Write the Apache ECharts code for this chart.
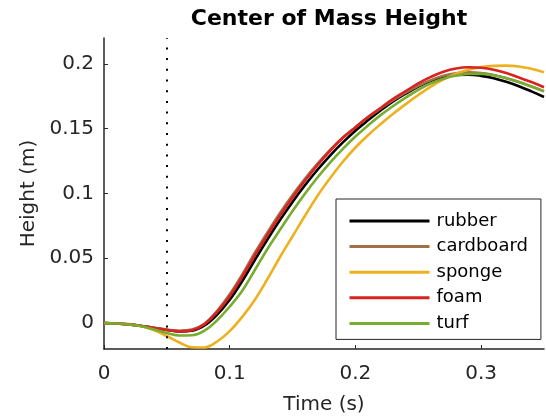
<!DOCTYPE html>
<html>
<head>
<meta charset="utf-8">
<script src="https://cdn.jsdelivr.net/npm/echarts@6/dist/echarts.min.js"></script>
<style>html,body{margin:0;padding:0;background:#fff}#c{width:546px;height:420px}</style>
</head>
<body>
<div id="c"></div>
<script>
const times = [0,0.01,0.02,0.03,0.04,0.05,0.06,0.07,0.08,0.09,0.10,0.11,0.12,0.13,0.14,0.15,0.16,0.17,0.18,0.19,0.20,0.21,0.22,0.23,0.24,0.25,0.26,0.27,0.28,0.29,0.30,0.31,0.32,0.33,0.34,0.35];
const rubber = [0,-0.0003,-0.0010,-0.0022,-0.0038,-0.0053,-0.0064,-0.0058,-0.0018,0.0065,0.0180,0.0325,0.0487,0.0645,0.0795,0.0935,0.1065,0.1185,0.1295,0.1395,0.1485,0.1565,0.1640,0.1710,0.1770,0.1825,0.1870,0.1900,0.1915,0.1917,0.1908,0.1890,0.1862,0.1828,0.1788,0.1745];
const cardboard = [0,-0.0003,-0.0010,-0.0022,-0.0037,-0.0050,-0.0059,-0.0050,-0.0005,0.0095,0.0222,0.0376,0.0543,0.0700,0.0850,0.0988,0.1115,0.1232,0.1338,0.1432,0.1512,0.1588,0.1655,0.1720,0.1778,0.1830,0.1875,0.1908,0.1928,0.1935,0.1930,0.1915,0.1890,0.1860,0.1825,0.1790];
const sponge = [0,-0.0003,-0.0011,-0.0025,-0.0055,-0.0100,-0.0150,-0.0186,-0.0188,-0.0142,-0.0062,0.0048,0.0180,0.0340,0.0510,0.0670,0.0830,0.0985,0.1120,0.1245,0.1355,0.1450,0.1535,0.1615,0.1690,0.1760,0.1825,0.1880,0.1925,0.1955,0.1975,0.1985,0.1987,0.1980,0.1962,0.1936];
const foam = [0,-0.0003,-0.0010,-0.0022,-0.0038,-0.0053,-0.0064,-0.0055,-0.0008,0.0085,0.0208,0.0358,0.0523,0.0680,0.0830,0.0970,0.1100,0.1220,0.1330,0.1430,0.1510,0.1590,0.1660,0.1730,0.1790,0.1850,0.1900,0.1940,0.1965,0.1974,0.1970,0.1955,0.1930,0.1895,0.1860,0.1820];
const turf = [0,-0.0003,-0.0011,-0.0025,-0.0050,-0.0077,-0.0096,-0.0094,-0.0058,0.0022,0.0128,0.0250,0.0410,0.0572,0.0720,0.0865,0.1000,0.1125,0.1240,0.1345,0.1440,0.1525,0.1605,0.1675,0.1740,0.1800,0.1850,0.1885,0.1910,0.1922,0.1923,0.1912,0.1890,0.1860,0.1825,0.1788];
const seriesNames = ['rubber','cardboard','sponge','foam','turf'];
const seriesValues = [rubber, cardboard, sponge, foam, turf];
const colors = ['#000000','#A0724A','#EDB120','#D92222','#77AC30'];
const xTicks = [0,0.1,0.2,0.3];
const yTicks = [0,0.05,0.1,0.15,0.2];
const eventTime = 0.05;

const FONT = 'DejaVu Sans';
const chart = echarts.init(document.getElementById('c'), null, {renderer:'canvas'});
const series = seriesNames.map((n,i)=>({
  name:n, type:'line', symbol:'none', smooth:0.4, animation:false,
  lineStyle:{color:colors[i], width:2.6}, itemStyle:{color:colors[i]},
  data: times.map((t,j)=>[t, seriesValues[i][j]]),
  z: 2+i
}));
series[0].markLine = {
  silent:true, symbol:['none','none'], animation:false,
  label:{show:false},
  lineStyle:{color:'#000', type:[2,8.7], width:2},
  data:[{xAxis:eventTime}]
};
chart.setOption({
  animation:false,
  backgroundColor:'#fff',
  title:{text:'Center of Mass Height', left:324, top:3, textAlign:'center',
    textStyle:{fontFamily:FONT, fontWeight:'bold', fontSize:22, color:'#000'}},
  grid:{left:104, right:2, top:38, bottom:69, containLabel:false},
  xAxis:{type:'value', min:0, max:0.35,
    name:'Time (s)', nameLocation:'middle', nameGap:46,
    nameTextStyle:{fontFamily:FONT, fontSize:20, color:'#262626'},
    axisLine:{show:true, onZero:false, lineStyle:{color:'#262626', width:1.5}},
    axisTick:{show:true, inside:true, length:4, customValues:xTicks, lineStyle:{color:'#262626'}},
    axisLabel:{customValues:xTicks, margin:15, fontFamily:FONT, fontSize:20, color:'#262626',
      formatter:v=>String(v)},
    splitLine:{show:false}},
  yAxis:{type:'value', min:-0.02, max:0.22,
    name:'Height (m)', nameLocation:'middle', nameGap:64, nameRotate:90,
    nameTextStyle:{fontFamily:FONT, fontSize:20, color:'#262626'},
    axisLine:{show:true, onZero:false, lineStyle:{color:'#262626', width:1.5}},
    axisTick:{show:true, inside:true, length:4, customValues:yTicks, lineStyle:{color:'#262626'}},
    axisLabel:{customValues:yTicks, margin:10, fontFamily:FONT, fontSize:20, color:'#262626',
      formatter:v=>String(v)},
    splitLine:{show:false}},
  legend:{orient:'vertical', left:336, top:199, data:seriesNames,
    itemWidth:80, itemHeight:14, itemGap:7.6,
    padding:[13,13,7,12],
    backgroundColor:'#fff', borderColor:'#262626', borderWidth:1,
    textStyle:{fontFamily:FONT, fontSize:18, color:'#000', padding:[0,0,0,2]},
    itemStyle:{opacity:0, borderWidth:0},
    lineStyle:{width:3}},
  series
});
</script>
</body>
</html>
